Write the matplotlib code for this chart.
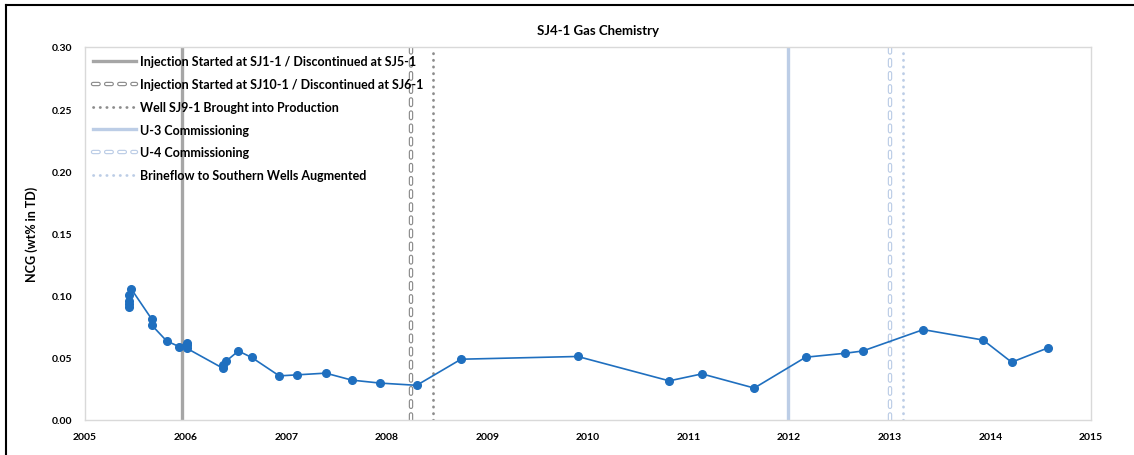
import matplotlib
matplotlib.use("Agg")
import matplotlib.pyplot as plt
import matplotlib.patheffects as pe
from matplotlib.lines import Line2D

plt.rcParams['font.family'] = ['Lato', 'DejaVu Sans']
plt.rcParams['font.weight'] = 'bold'

# sample dates (decimal years) and NCG values
dates = [2005.44, 2005.44, 2005.44, 2005.44, 2005.457,
         2005.663, 2005.663, 2005.812, 2005.934,
         2006.011, 2006.011, 2006.011,
         2006.369, 2006.369, 2006.399, 2006.524, 2006.657,
         2006.931, 2007.104, 2007.393, 2007.651, 2007.932,
         2008.297, 2008.738, 2009.898, 2010.808, 2011.133, 2011.653,
         2012.164, 2012.558, 2012.731, 2013.333, 2013.929, 2014.212, 2014.570]
ncg = [0.0910, 0.0930, 0.0960, 0.1002, 0.1056,
       0.0810, 0.0762, 0.0634, 0.0590,
       0.0622, 0.0602, 0.0576,
       0.0416, 0.0442, 0.0470, 0.0554, 0.0502,
       0.0354, 0.0362, 0.0376, 0.0320, 0.0296,
       0.0278, 0.0488, 0.0510, 0.0314, 0.0370, 0.0256,
       0.0504, 0.0536, 0.0554, 0.0726, 0.0642, 0.0464, 0.0578]

# event lines
ev_labels = ['Injection Started at SJ1-1 / Discontinued at SJ5-1',
             'Injection Started at SJ10-1 / Discontinued at SJ6-1',
             'Well SJ9-1 Brought into Production',
             'U-3 Commissioning',
             'U-4 Commissioning',
             'Brineflow to Southern Wells Augmented']
ev_dates = [2005.961, 2008.237, 2008.456, 2011.991, 2013.002, 2013.128]

gray = '#a6a6a6'
lblue = '#bccde6'
blue = '#1f6fbf'

fig = plt.figure(figsize=(11.34, 4.56), dpi=100)
ax = fig.add_axes([0.075, 0.077, 0.887, 0.818])

handles = []
# solid gray
h = ax.axvline(ev_dates[0], color=gray, lw=2.4)
handles.append(h)
# outlined dashed gray
h = ax.axvline(ev_dates[1], color='white', lw=1.5, dashes=(2.7, 3.6),
               dash_capstyle='round',
               path_effects=[pe.Stroke(linewidth=3.2, foreground='#8c8c8c'), pe.Normal()])
handles.append(h)
# dotted gray
h = ax.axvline(ev_dates[2], color='#8c8c8c', lw=2.0, dashes=(0.1, 2.3),
               dash_capstyle='round')
handles.append(h)
# solid light blue
h = ax.axvline(ev_dates[3], color=lblue, lw=2.4)
handles.append(h)
# outlined dashed light blue
h = ax.axvline(ev_dates[4], color='white', lw=1.5, dashes=(2.7, 3.6),
               dash_capstyle='round',
               path_effects=[pe.Stroke(linewidth=3.2, foreground=lblue), pe.Normal()])
handles.append(h)
# dotted light blue
h = ax.axvline(ev_dates[5], color=lblue, lw=2.0, dashes=(0.1, 2.3),
               dash_capstyle='round')
handles.append(h)

ax.plot(dates, ncg, color=blue, lw=1.2, marker='o', ms=5.5, zorder=5)

ax.set_xlim(2005, 2015)
ax.set_ylim(0, 0.30)
ax.set_xticks(range(2005, 2016))
ax.set_yticks([0, 0.05, 0.10, 0.15, 0.20, 0.25, 0.30])
ax.set_yticklabels(['0.00', '0.05', '0.10', '0.15', '0.20', '0.25', '0.30'])
ax.tick_params(length=0, labelsize=7.5, pad=9)
for s in ax.spines.values():
    s.set_color('#d9d9d9')
    s.set_linewidth(1)
ax.set_ylabel('NCG (wt% in TD)', fontsize=9, fontweight='bold', labelpad=10)
ax.set_title('SJ4-1 Gas Chemistry', fontsize=9.5, fontweight='bold', pad=9, x=0.51)

leg = ax.legend(handles, ev_labels, loc='upper left', bbox_to_anchor=(0.0, 0.997),
                frameon=False, fontsize=9, handlelength=3.5, handletextpad=0.3,
                labelspacing=0.86, borderaxespad=0.2)

# outer chart border
fig.add_artist(Line2D([6 / 1134, 6 / 1134], [0, 1 - 6 / 456], color='black', lw=1.5,
                      transform=fig.transFigure))
fig.add_artist(Line2D([6 / 1134, 1], [1 - 6 / 456, 1 - 6 / 456], color='black', lw=1.5,
                      transform=fig.transFigure))

fig.savefig('out.png', dpi=100)
